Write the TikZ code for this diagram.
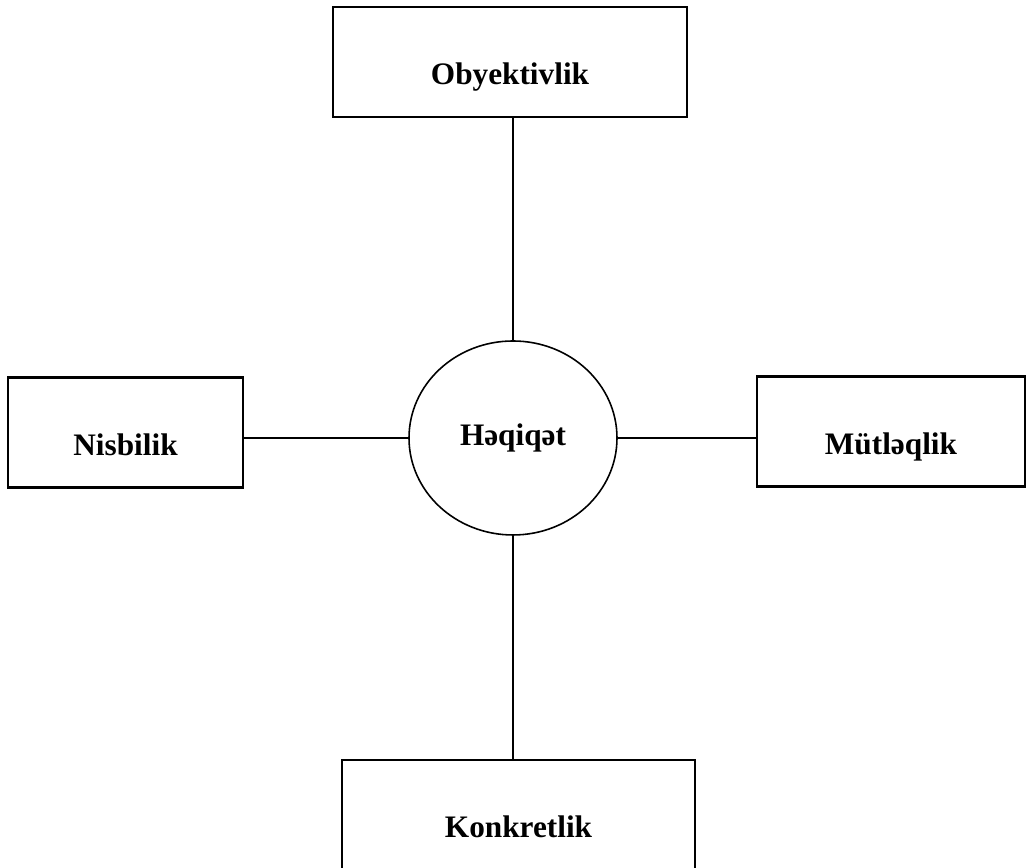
\documentclass[tikz,border=0pt]{standalone}
\usepackage{fontspec}
\setmainfont{Liberation Serif}
\usepackage{tikz}
\usetikzlibrary{shapes.geometric}

\begin{document}
\begin{tikzpicture}[
    box/.style={draw, line width=1.4pt, rectangle, minimum height=2.2cm,
        text height=0.92cm, text depth=0pt, font=\fontsize{17.8}{20}\selectfont\bfseries},
    core/.style={draw, line width=0.9pt, ellipse, minimum width=4.16cm, minimum height=3.88cm,
        inner sep=0pt, font=\fontsize{17.8}{20}\selectfont\bfseries},
    link/.style={line width=1pt}]
    \useasboundingbox (0,0) rectangle (20.6,17.36);

    \node[core] (haqiqat) at (10.26,8.6) {Həqiqət};

    \node[box, minimum width=7.08cm] (obyekt) at (10.2,16.12) {Obyektivlik};
    \node[box, minimum width=4.7cm] (nisbi) at (2.51,8.71) {Nisbilik};
    \node[box, minimum width=5.36cm] (mutlaq) at (17.82,8.73) {Mütləqlik};
    \node[box, minimum width=7.06cm] (konkret) at (10.37,1.06) {Konkretlik};

    \draw[link] (haqiqat.north) -- (haqiqat.north |- obyekt.south);
    \draw[link] (haqiqat.south) -- (haqiqat.south |- konkret.north);
    \draw[link] (haqiqat.west) -- (haqiqat.west -| nisbi.east);
    \draw[link] (haqiqat.east) -- (haqiqat.east -| mutlaq.west);
\end{tikzpicture}
\end{document}
